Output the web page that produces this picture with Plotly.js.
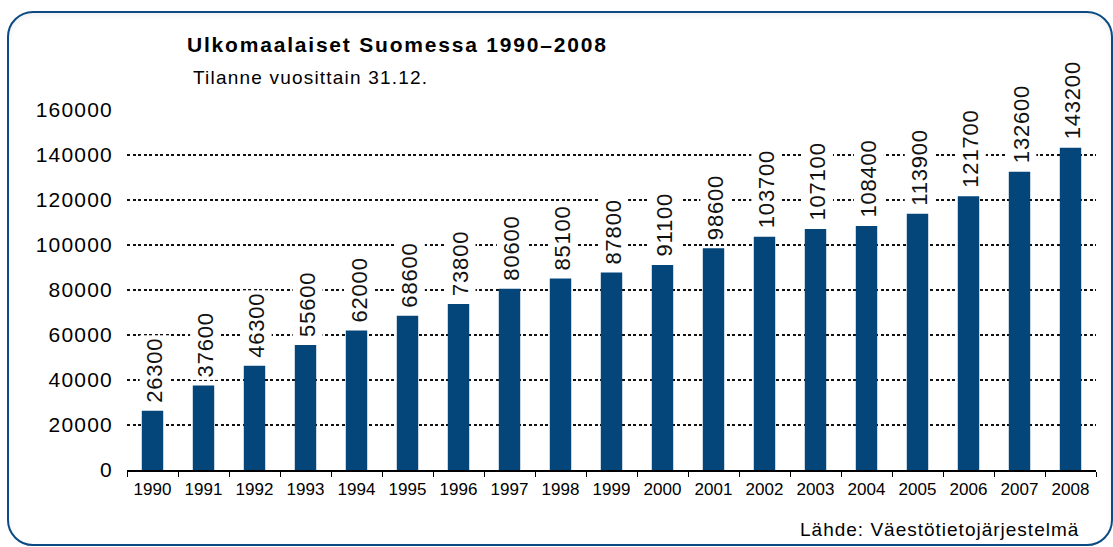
<!DOCTYPE html>
<html>
<head>
<meta charset="utf-8">
<script src="https://cdn.plot.ly/plotly-3.0.1.min.js"></script>
<style>
  html, body { margin: 0; padding: 0; background: #ffffff; }
  #wrap { position: relative; width: 1113px; height: 547px; overflow: hidden; background: #ffffff; }
  #frame {
    position: absolute; left: 7px; top: 11px; width: 1102px; height: 531px;
    border: 2.5px solid #0b4a82; border-radius: 26px;
    box-shadow: inset 0 3px 6px rgba(0,0,0,0.06);
    background: #ffffff;
  }
  #chart { position: absolute; left: 0; top: 0; width: 1113px; height: 547px; }
  .ytick text { letter-spacing: 1.2px; }
</style>
</head>
<body>
<div id="wrap">
  <div id="frame"></div>
  <div id="chart"></div>
</div>
<script>
const years = ['1990','1991','1992','1993','1994','1995','1996','1997','1998','1999',
               '2000','2001','2002','2003','2004','2005','2006','2007','2008'];
const foreigners = [26300, 37600, 46300, 55600, 62000, 68600, 73800, 80600, 85100, 87800,
                    91100, 98600, 103700, 107100, 108400, 113900, 121700, 132600, 143200];
const yTickValues = [0, 20000, 40000, 60000, 80000, 100000, 120000, 140000, 160000];
const yTickLabels = ['0','20000','40000','60000','80000','100000','120000','140000','160000'];
const titleText = 'Ulkomaalaiset Suomessa 1990–2008';
const subtitleText = 'Tilanne vuosittain 31.12.';
const sourceText = 'Lähde: Väestötietojärjestelmä';

const FONT = '"Liberation Sans", Arial, Helvetica, sans-serif';
const BAR = '#05467a';

function spaced(txt, px) {
  return '<span style="letter-spacing:' + px + 'px">' + txt + '</span>';
}

const trace = {
  type: 'bar',
  x: years,
  y: foreigners,
  marker: { color: BAR, line: { width: 0 } },
  hoverinfo: 'x+y'
};

// category axis: annotation x given as category index
const valueLabels = years.map((yr, i) => ({
  x: i, y: foreigners[i], xref: 'x', yref: 'y',
  text: spaced(String(foreigners[i]), 0.8),
  textangle: -90,
  showarrow: false,
  xanchor: 'center', yanchor: 'bottom',
  xshift: 2,
  yshift: 5,
  bgcolor: '#ffffff',
  borderpad: 2,
  font: { family: FONT, size: 22, color: '#111111' }
}));

const layout = {
  width: 1113, height: 547,
  paper_bgcolor: 'rgba(0,0,0,0)',
  plot_bgcolor: 'rgba(0,0,0,0)',
  margin: { l: 127, r: 17, t: 110, b: 77, pad: 0 },
  bargap: 0.58,
  showlegend: false,
  font: { family: FONT, color: '#111111' },
  title: {
    text: '<b>' + spaced(titleText, 1.8) + '</b>',
    x: 187 / 1113, xanchor: 'left', xref: 'container',
    y: 1 - 45 / 547, yanchor: 'middle', yref: 'container',
    font: { family: FONT, size: 21, color: '#000000' }
  },
  xaxis: {
    type: 'category',
    range: [-0.5, years.length - 0.5],
    autorange: false,
    showgrid: false,
    showline: true, linecolor: '#000000', linewidth: 1.5,
    ticks: 'outside', tickson: 'boundaries', ticklen: 5, tickcolor: '#000000', tickwidth: 1,
    tickangle: 0,
    ticklabelstandoff: 3,
    tickfont: { family: FONT, size: 17, color: '#000000' },
    zeroline: false,
    fixedrange: true
  },
  yaxis: {
    range: [0, 160000],
    autorange: false,
    tickvals: yTickValues,
    ticktext: yTickLabels,
    showline: false,
    ticks: '',
    ticklabelstandoff: 13,
    tickfont: { family: FONT, size: 21, color: '#000000' },
    showgrid: true, gridcolor: '#111111', gridwidth: 1.8, griddash: '3px,2.5px',
    zeroline: false,
    fixedrange: true
  },
  annotations: valueLabels.concat([
    {
      text: spaced(subtitleText, 1.2), xref: 'paper', yref: 'paper',
      x: (191 - 127) / 969, y: (470 - 77) / 360,
      xanchor: 'left', yanchor: 'middle', showarrow: false,
      font: { family: FONT, size: 19, color: '#000000' }
    },
    {
      text: spaced(sourceText, 1.0), xref: 'paper', yref: 'paper',
      x: (1081 - 127) / 969, y: (470 - 529) / 360,
      xanchor: 'right', yanchor: 'middle', showarrow: false,
      font: { family: FONT, size: 19, color: '#000000' }
    }
  ])
};

Plotly.newPlot('chart', [trace], layout, { displayModeBar: false, staticPlot: true });
</script>
</body>
</html>
